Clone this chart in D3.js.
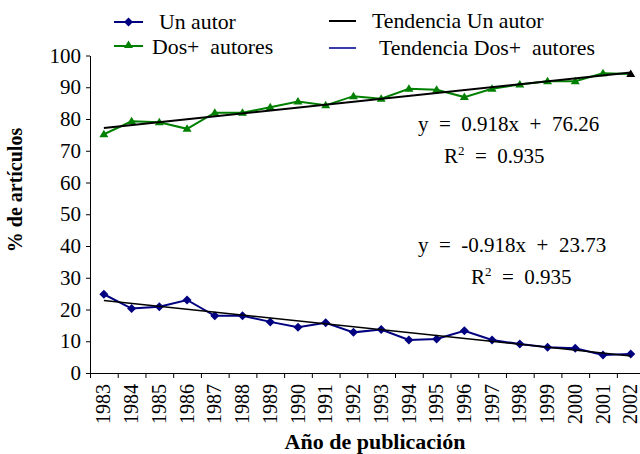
<!DOCTYPE html>
<html><head><meta charset="utf-8">
<script src="https://cdn.jsdelivr.net/npm/d3@7"></script>
<style>
body{margin:0;background:#fff;}
</style></head>
<body><svg id="c" width="640" height="454"></svg>
<script>
const years = ["1983","1984","1985","1986","1987","1988","1989","1990","1991","1992","1993","1994","1995","1996","1997","1998","1999","2000","2001","2002"];
const unAutor = [24.8,20.3,20.9,23.0,18.0,18.0,16.1,14.4,15.8,12.8,13.7,10.4,10.7,13.3,10.4,9.1,8.1,7.8,5.7,6.0];
const dosAutores = [75.2,79.3,79.0,76.9,82.0,82.0,83.7,85.5,84.3,87.2,86.4,89.5,89.2,86.9,89.5,90.9,91.9,91.9,94.4,94.2];
const yTicks = [0,10,20,30,40,50,60,70,80,90,100];
const trendDos = {slope:0.918, intercept:76.26, label:"y = 0.918x + 76.26", r2:"0.935"};
const trendUn = {slope:-0.918, intercept:23.73, label:"y = -0.918x + 23.73", r2:"0.935"};
const legendItems = ["Un autor","Dos+ autores","Tendencia Un autor","Tendencia Dos+ autores"];
const yTitle = "% de artículos";
const xTitle = "Año de publicación";

const FONT="'Times New Roman', 'Liberation Serif', Tinos, 'DejaVu Serif', serif";
const navy="#000080", green="#008000";
const svg=d3.select("#c");
const x=d3.scaleBand().domain(years).range([90,644.6]).padding(0);
const xi=d3.scaleLinear().domain([0,20]).range([90,644.6]);
const y=d3.scaleLinear().domain([0,100]).range([373,55.5]);
const cx=d=>x(d)+x.bandwidth()/2;
const T=(sel,fs)=>sel.style("font-family",FONT).style("font-size",fs+"px");

// y axis
const ya=svg.append("g").attr("transform","translate(90,0)")
  .call(d3.axisLeft(y).tickValues(yTicks).tickSize(4).tickSizeOuter(0).tickPadding(5));
ya.attr("font-family",null);
ya.select(".domain").attr("stroke","#000");
T(ya.selectAll("text"),21);
// x axis ticks between categories
const xa=svg.append("g").attr("transform","translate(0,373)")
  .call(d3.axisBottom(xi).tickValues(d3.range(0,21)).tickSize(5).tickSizeOuter(0).tickFormat(""));
xa.select(".domain").attr("stroke","#000");
// x labels
T(svg.append("g").selectAll("text").data(years).join("text")
  .attr("transform",d=>`translate(${cx(d)},384) rotate(-90)`)
  .attr("text-anchor","end").attr("dy","0.33em").text(d=>d),20);

const line=d3.line().x((d,i)=>cx(years[i])).y(d=>y(d));
// series
svg.append("path").datum(dosAutores).attr("d",line).attr("fill","none").attr("stroke",green).attr("stroke-width",2);
svg.append("path").datum(unAutor).attr("d",line).attr("fill","none").attr("stroke",navy).attr("stroke-width",2);
const tri=(px,py)=>`M${px},${py-4.5}L${px+4.5},${py+3}L${px-4.5},${py+3}Z`;
const dia=(px,py)=>`M${px},${py-4.5}L${px+4.5},${py}L${px},${py+4.5}L${px-4.5},${py}Z`;
svg.append("g").selectAll("path").data(dosAutores).join("path")
  .attr("d",(d,i)=>tri(cx(years[i]),y(d))).attr("fill",(d,i)=>i===dosAutores.length-1?"#000":green);
svg.append("g").selectAll("path").data(unAutor).join("path")
  .attr("d",(d,i)=>dia(cx(years[i]),y(d))).attr("fill",navy);
// trend lines
[trendDos,trendUn].forEach((t,k)=>{
  const pts=[1,years.length].map(n=>[cx(years[n-1]),y(t.slope*n+t.intercept)]);
  svg.append("path").attr("d",d3.line()(pts)).attr("stroke","#000").attr("stroke-width",k===0?2:1.5).attr("fill","none");
});
// equations
function eq(t,x1,y1,x2,y2){
  T(svg.append("text").attr("x",x1).attr("y",y1).attr("xml:space","preserve"),21)
    .text(t.label.replace(/ /g,"  "));
  const r=T(svg.append("text").attr("x",x2).attr("y",y2).attr("xml:space","preserve"),21);
  r.append("tspan").text("R");
  r.append("tspan").attr("dy",-8).style("font-size","13px").text("2");
  r.append("tspan").attr("dy",8).text("  =  "+t.r2);
}
eq(trendDos,418,131,444,163);
eq(trendUn,418,252,471,284);

// legend
const lg=svg.append("g");
lg.append("line").attr("x1",114).attr("x2",143).attr("y1",22).attr("y2",22).attr("stroke",navy).attr("stroke-width",2);
lg.append("path").attr("d",dia(128.5,22)).attr("fill",navy);
lg.append("line").attr("x1",114).attr("x2",143).attr("y1",46).attr("y2",46).attr("stroke",green).attr("stroke-width",2);
lg.append("path").attr("d",tri(128.5,45)).attr("fill",green);
lg.append("line").attr("x1",329).attr("x2",356).attr("y1",21).attr("y2",21).attr("stroke","#000").attr("stroke-width",2);
lg.append("line").attr("x1",329).attr("x2",356).attr("y1",48).attr("y2",48).attr("stroke","#3a3aa8").attr("stroke-width",2);
const lt=[[159,29],[152,54],[372,28],[379,55]];
legendItems.forEach((s,i)=>T(lg.append("text").attr("x",lt[i][0]).attr("y",lt[i][1]).attr("xml:space","preserve"),21.8).text(s.replace("+","+ ")));

// titles
T(svg.append("text").attr("transform","translate(22,190) rotate(-90)").attr("text-anchor","middle"),20)
  .style("font-weight","bold").text(yTitle);
T(svg.append("text").attr("x",375).attr("y",449).attr("text-anchor","middle"),22)
  .style("font-weight","bold").text(xTitle);
</script></body></html>
